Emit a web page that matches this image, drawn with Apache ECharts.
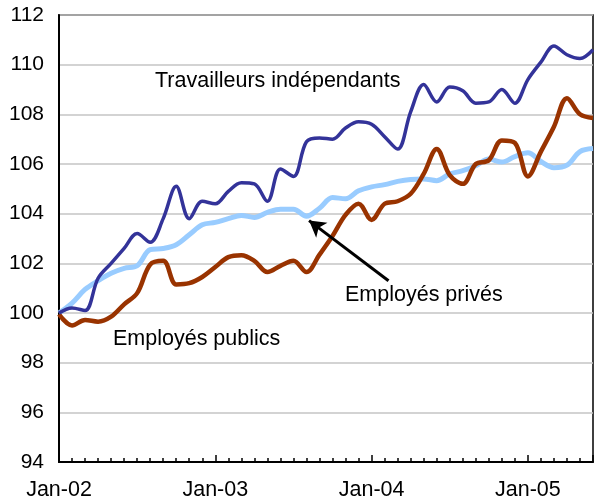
<!DOCTYPE html>
<html><head><meta charset="utf-8">
<script src="https://cdn.jsdelivr.net/npm/echarts@6/dist/echarts.min.js"></script>
<style>html,body{margin:0;padding:0;background:#fff}#c{width:596px;height:504px}</style>
</head><body><div id="c"></div>
<script>
// Monthly index from Jan-02 (0) onwards
const tickLabels = ['Jan-02', 'Jan-03', 'Jan-04', 'Jan-05'];
const yTicks = [94, 96, 98, 100, 102, 104, 106, 108, 110, 112];
const independants = [100.0, 100.2, 100.1, 101.4, 102.0, 102.6, 103.2, 102.85, 103.8, 105.1, 103.8, 104.5,
  104.4, 104.9, 105.25, 105.2, 104.5, 105.8, 105.5, 106.9, 107.05, 107.0, 107.45, 107.7,
  107.6, 107.1, 106.6, 108.1, 109.2, 108.5, 109.1, 108.95, 108.45, 108.5, 109.0, 108.45,
  109.4, 110.1, 110.75, 110.4, 110.25, 110.6];
const prives = [100.0, 100.4, 100.95, 101.3, 101.6, 101.8, 101.9, 102.55, 102.6, 102.75, 103.15, 103.55,
  103.65, 103.8, 103.93, 103.85, 104.05, 104.18, 104.18, 103.9, 104.22, 104.65, 104.6, 104.92,
  105.08, 105.17, 105.3, 105.38, 105.4, 105.33, 105.6, 105.73, 105.93, 106.2, 106.08, 106.3,
  106.45, 106.1, 105.85, 105.95, 106.5, 106.62];
const publics = [99.95, 99.5, 99.72, 99.65, 99.85, 100.35, 100.8, 101.95, 102.1, 101.15, 101.2, 101.45,
  101.85, 102.25, 102.33, 102.1, 101.65, 101.9, 102.1, 101.65, 102.35, 103.1, 103.95, 104.4,
  103.75, 104.4, 104.5, 104.8, 105.6, 106.6, 105.55, 105.2, 106.0, 106.15, 106.95, 106.85,
  105.5, 106.5, 107.5, 108.65, 108.0, 107.85];
const seriesNames = ['Travailleurs indépendants', 'Employés privés', 'Employés publics'];
const arrowFrom = [25.3, 101.3];
const arrowTo = [19.2, 103.72];

const toXY = arr => arr.map((v, i) => [i, v]);
const font = "'Liberation Sans', Arial, sans-serif";
const chart = echarts.init(document.getElementById('c'));
chart.setOption({
  animation: false,
  grid: { left: 59, top: 15, right: -4, bottom: 42, show: true, borderColor: '#000', borderWidth: 1.5, backgroundColor: 'transparent' },
  xAxis: [
    { type: 'value', min: 0, max: 41, interval: 1,
      axisLine: { lineStyle: { color: '#000', width: 2 } },
      axisTick: { inside: true, length: 4, lineStyle: { color: '#000', width: 1.5 } },
      axisLabel: { show: false }, splitLine: { show: false } },
    { type: 'value', min: 0, max: 41, interval: 12, position: 'bottom',
      axisLine: { show: false },
      axisTick: { inside: true, length: 7, lineStyle: { color: '#000', width: 1.5 } },
      axisLabel: { margin: 17, color: '#000', fontFamily: font, fontSize: 21.5,
        formatter: v => (v % 12 === 0 && tickLabels[v / 12]) ? tickLabels[v / 12] : '' },
      splitLine: { show: false } }
  ],
  yAxis: { type: 'value', min: yTicks[0], max: yTicks[yTicks.length - 1], interval: 2,
    axisLine: { show: true, lineStyle: { color: '#000', width: 2 } },
    axisTick: { show: false },
    axisLabel: { margin: 15, color: '#000', fontFamily: font, fontSize: 21 },
    splitLine: { lineStyle: { color: '#c4c4c4', width: 1.5 } } },
  series: [
    { name: seriesNames[1], type: 'line', data: toXY(prives), smooth: 0.35, symbol: 'none',
      lineStyle: { color: '#99ccff', width: 5 }, z: 2 },
    { name: seriesNames[2], type: 'line', data: toXY(publics), smooth: 0.35, symbol: 'none',
      lineStyle: { color: '#993300', width: 4.5 }, z: 3 },
    { name: seriesNames[0], type: 'line', data: toXY(independants), smooth: 0.35, symbol: 'none',
      lineStyle: { color: '#333399', width: 3.5 }, z: 4,
      markLine: { silent: true, symbol: ['none', 'arrow'], symbolSize: [14, 16],
        lineStyle: { color: '#000', width: 3, type: 'solid' }, label: { show: false },
        data: [[{ coord: arrowFrom }, { coord: arrowTo }]] } }
  ],
  graphic: [
    { type: 'text', left: 155, top: 70, style: { text: seriesNames[0], font: '21.5px ' + font, fill: '#000' } },
    { type: 'text', left: 345, top: 284, style: { text: seriesNames[1], font: '21.5px ' + font, fill: '#000' } },
    { type: 'text', left: 113, top: 328, style: { text: seriesNames[2], font: '21.5px ' + font, fill: '#000' } }
  ]
});
</script></body></html>
